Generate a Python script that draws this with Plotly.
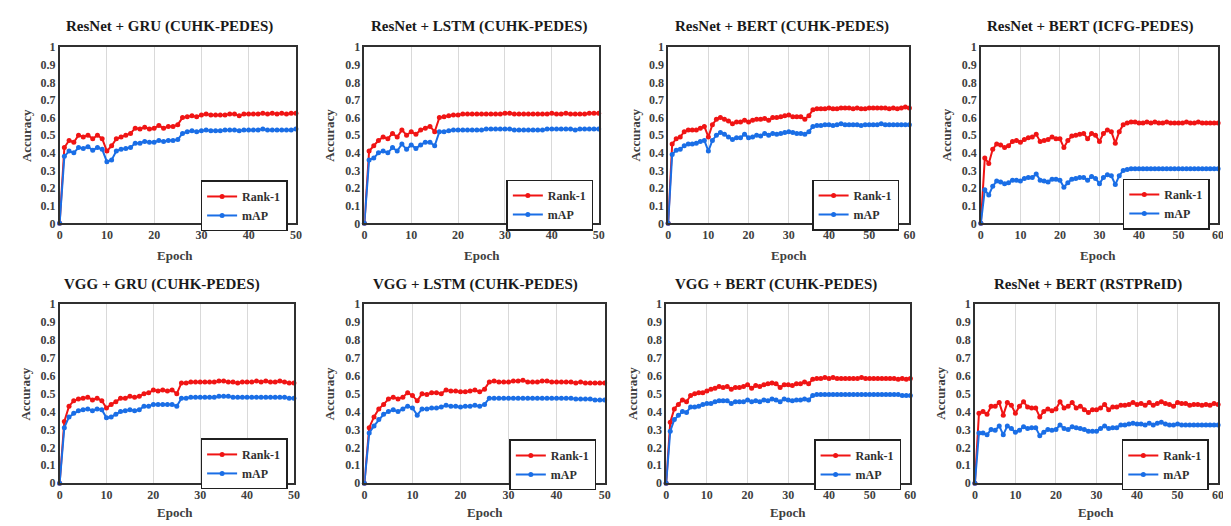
import plotly.graph_objects as go

W, H = 1231, 526
FONT = "Liberation Serif"
RED = "#f01414"
BLUE = "#1a6ee6"

epochs_50 = list(range(51))
epochs_60 = list(range(61))

titles = [
    "ResNet + GRU (CUHK-PEDES)", "ResNet + LSTM (CUHK-PEDES)",
    "ResNet + BERT (CUHK-PEDES)", "ResNet + BERT (ICFG-PEDES)",
    "VGG + GRU (CUHK-PEDES)", "VGG + LSTM (CUHK-PEDES)",
    "VGG + BERT (CUHK-PEDES)", "ResNet + BERT (RSTPReID)",
]
series_names = ["Rank-1", "mAP"]
y_tick_vals = [0, 0.1, 0.2, 0.3, 0.4, 0.5, 0.6, 0.7, 0.8, 0.9, 1]
y_tick_text = ["0", "0.1", "0.2", "0.3", "0.4", "0.5", "0.6", "0.7", "0.8", "0.9", "1"]

resnet_gru_rank1 = [0, .43, .47, .46, .50, .49, .50, .48, .50, .48,
                    .41, .44, .48, .49, .50, .51, .54, .535, .545, .535,
                    .54, .555, .54, .55, .55, .56, .60, .605, .61, .605,
                    .615, .62, .615, .615, .615, .615, .62, .62, .61, .62,
                    .62, .62, .62, .625, .62, .625, .62, .625, .62, .625, .625]
resnet_gru_map = [0, .38, .41, .40, .43, .425, .435, .415, .43, .42,
                  .35, .36, .41, .42, .425, .43, .455, .455, .465, .46,
                  .46, .47, .465, .47, .47, .475, .51, .52, .525, .52,
                  .525, .53, .525, .525, .525, .53, .53, .53, .525, .53,
                  .53, .53, .53, .535, .53, .53, .53, .53, .53, .53, .535]

resnet_lstm_rank1 = [0, .41, .44, .47, .49, .48, .51, .49, .53, .50,
                     .52, .505, .53, .54, .55, .52, .60, .605, .61, .615,
                     .615, .62, .62, .62, .62, .62, .62, .62, .62, .62,
                     .625, .625, .62, .62, .62, .62, .62, .62, .62, .62,
                     .625, .62, .62, .625, .62, .62, .62, .62, .625, .625, .625]
resnet_lstm_map = [0, .36, .37, .40, .41, .40, .43, .41, .45, .42,
                   .445, .425, .445, .46, .46, .44, .52, .52, .525, .53,
                   .53, .53, .53, .53, .53, .53, .535, .535, .535, .535,
                   .535, .535, .53, .53, .53, .53, .53, .53, .53, .535,
                   .535, .535, .535, .535, .535, .53, .535, .535, .535, .535, .535]

resnet_bert_cuhk_rank1 = [0, .45, .48, .49, .52, .53, .53, .53, .54, .55,
                          .49, .56, .59, .60, .59, .58, .565, .575, .575, .585,
                          .575, .585, .59, .59, .595, .585, .60, .60, .605, .61,
                          .615, .605, .605, .605, .59, .61, .645, .65, .65, .65,
                          .655, .65, .65, .655, .655, .655, .65, .655, .65, .65,
                          .655, .655, .655, .655, .655, .65, .655, .65, .655, .66, .655]
resnet_bert_cuhk_map = [0, .39, .415, .42, .44, .45, .45, .455, .465, .47,
                        .41, .47, .50, .515, .505, .49, .475, .485, .485, .505,
                        .485, .49, .50, .495, .51, .50, .51, .505, .51, .515,
                        .52, .515, .51, .51, .505, .52, .55, .555, .555, .56,
                        .56, .555, .56, .565, .56, .56, .56, .56, .555, .56,
                        .56, .56, .56, .565, .56, .56, .56, .56, .56, .56, .56]

resnet_bert_icfg_rank1 = [0, .37, .34, .42, .45, .445, .43, .44, .465, .47,
                          .46, .475, .485, .49, .505, .465, .47, .475, .49, .48,
                          .48, .43, .47, .495, .50, .505, .51, .48, .51, .50,
                          .465, .51, .53, .52, .455, .52, .56, .57, .575, .575,
                          .57, .57, .575, .57, .575, .57, .57, .575, .57, .57,
                          .57, .57, .575, .57, .57, .575, .57, .57, .57, .57, .57]
resnet_bert_icfg_map = [0, .19, .16, .21, .24, .235, .225, .23, .245, .245,
                        .24, .255, .26, .26, .28, .245, .24, .235, .25, .25,
                        .245, .205, .23, .25, .255, .26, .26, .245, .265, .255,
                        .225, .26, .275, .27, .22, .27, .30, .305, .31, .31,
                        .31, .31, .31, .31, .31, .31, .31, .31, .31, .31,
                        .31, .31, .31, .31, .31, .31, .31, .31, .31, .31, .31]

vgg_gru_rank1 = [0, .345, .43, .46, .47, .475, .48, .465, .475, .46,
                 .42, .44, .455, .475, .475, .485, .48, .485, .50, .505,
                 .52, .515, .52, .515, .52, .50, .56, .56, .565, .565,
                 .565, .565, .565, .565, .57, .57, .565, .565, .56, .565,
                 .565, .565, .57, .565, .57, .565, .565, .57, .565, .56, .56]
vgg_gru_map = [0, .31, .37, .39, .405, .41, .415, .405, .415, .41,
               .365, .37, .385, .40, .405, .41, .405, .41, .43, .43,
               .44, .44, .44, .44, .44, .43, .475, .475, .48, .48,
               .48, .48, .48, .48, .485, .485, .485, .48, .48, .48,
               .48, .48, .48, .48, .48, .48, .48, .48, .48, .475, .475]

vgg_lstm_rank1 = [0, .31, .37, .415, .44, .47, .48, .47, .48, .505,
                  .49, .46, .50, .495, .505, .505, .50, .52, .515, .515,
                  .51, .51, .515, .52, .51, .525, .565, .57, .565, .565,
                  .565, .57, .57, .575, .565, .565, .565, .57, .57, .565,
                  .565, .565, .565, .565, .56, .565, .56, .56, .56, .56, .56]
vgg_lstm_map = [0, .28, .32, .355, .385, .40, .41, .40, .415, .43,
                .42, .38, .415, .415, .42, .42, .425, .435, .43, .43,
                .425, .43, .43, .435, .43, .44, .475, .475, .475, .475,
                .475, .475, .475, .475, .475, .475, .475, .475, .475, .475,
                .475, .475, .475, .475, .47, .47, .47, .47, .465, .465, .465]

vgg_bert_rank1 = [0, .34, .415, .44, .465, .455, .49, .50, .505, .505,
                  .515, .525, .53, .54, .535, .54, .525, .535, .535, .54,
                  .55, .53, .545, .54, .55, .555, .56, .555, .535, .55,
                  .55, .545, .555, .555, .565, .555, .58, .585, .585, .59,
                  .585, .59, .585, .585, .585, .585, .585, .585, .59, .585,
                  .585, .585, .585, .585, .585, .585, .585, .58, .585, .58, .585]
vgg_bert_map = [0, .29, .355, .38, .40, .395, .425, .425, .43, .44,
                .445, .445, .455, .46, .46, .46, .445, .455, .455, .455,
                .465, .455, .46, .455, .465, .46, .47, .465, .455, .47,
                .465, .46, .465, .465, .47, .465, .49, .495, .495, .495,
                .495, .495, .495, .495, .495, .495, .495, .495, .495, .495,
                .495, .495, .495, .495, .495, .495, .495, .495, .49, .49, .49]

resnet_bert_rstp_rank1 = [0, .39, .40, .385, .43, .43, .45, .38, .45, .435,
                          .39, .43, .455, .425, .42, .42, .37, .40, .415, .405,
                          .415, .455, .42, .43, .45, .42, .43, .41, .395, .41,
                          .41, .42, .44, .41, .425, .425, .435, .435, .44, .45,
                          .44, .445, .435, .45, .435, .445, .455, .445, .44, .43,
                          .45, .445, .445, .435, .44, .44, .435, .44, .435, .445, .44]
resnet_bert_rstp_map = [0, .28, .28, .27, .30, .295, .32, .27, .32, .305,
                        .285, .295, .315, .305, .31, .31, .265, .285, .30, .295,
                        .30, .325, .305, .30, .315, .31, .305, .30, .29, .29,
                        .29, .305, .32, .305, .31, .31, .325, .325, .33, .335,
                        .33, .33, .325, .335, .325, .335, .34, .33, .325, .325,
                        .33, .325, .325, .325, .325, .325, .325, .325, .325, .325, .325]

panel_data = [
    (epochs_50, resnet_gru_rank1, resnet_gru_map),
    (epochs_50, resnet_lstm_rank1, resnet_lstm_map),
    (epochs_60, resnet_bert_cuhk_rank1, resnet_bert_cuhk_map),
    (epochs_60, resnet_bert_icfg_rank1, resnet_bert_icfg_map),
    (epochs_50, vgg_gru_rank1, vgg_gru_map),
    (epochs_50, vgg_lstm_rank1, vgg_lstm_map),
    (epochs_60, vgg_bert_rank1, vgg_bert_map),
    (epochs_60, resnet_bert_rstp_rank1, resnet_bert_rstp_map),
]

# layout in pixels: plot box (left, right, top, bottom)
boxes = [
    (49, 287, 33, 214), (356, 592, 33, 214), (662, 905, 33, 214), (977, 1216, 33, 214),
    (49, 285, 297, 481), (356, 598, 297, 481), (660, 906, 297, 481), (971, 1216, 297, 481),
]
title_x = [160, 471, 777, 1087, 152, 468, 771, 1085]
ylab_x = [15, 321, 629, 942, 15, 321, 626, 936]
xlab_x = [165, 474, 784, 1095, 165, 477, 783, 1093]
legend_pos = [(191, 170), (499, 169), (807, 169), (1120, 168),
              (191, 435), (502, 436), (809, 436), (1119, 436)]


def px(x):
    return x / W


def py(y):
    return 1 - y / H


fig = go.Figure()
annotations = []
for i, ((xs, r1, mp), (l, r, t, b)) in enumerate(zip(panel_data, boxes)):
    n = i + 1
    xa = "x" if n == 1 else f"x{n}"
    ya = "y" if n == 1 else f"y{n}"
    lg = "legend" if n == 1 else f"legend{n}"
    for name, ys, col in zip(series_names, [r1, mp], [RED, BLUE]):
        fig.add_trace(go.Scatter(
            x=xs, y=ys, name=name, mode="lines+markers",
            line=dict(color=col, width=2),
            marker=dict(color=col, size=5, symbol="circle"),
            xaxis=xa, yaxis=ya, legend=lg, cliponaxis=False,
        ))
    xmax = xs[-1]
    axis_common = dict(
        showline=True, mirror=True, linecolor="#303030", linewidth=1.5,
        ticks="", zeroline=False,
        tickfont=dict(family=FONT, size=12, color="#404040", weight="bold"),
    )
    fig.layout[f"xaxis{'' if n == 1 else n}"] = dict(
        domain=[px(l), px(r)], anchor=ya, range=[0, xmax],
        tickvals=list(range(0, xmax + 1, 10)), showgrid=True, gridcolor="#d9d9d9",
        gridwidth=1, **axis_common)
    fig.layout[f"yaxis{'' if n == 1 else n}"] = dict(
        domain=[py(b), py(t)], anchor=xa, range=[0, 1],
        tickvals=y_tick_vals, ticktext=y_tick_text, showgrid=False,
        **axis_common)
    lx, ly = legend_pos[i]
    fig.layout[lg] = dict(
        x=px(lx), y=py(ly), xanchor="left", yanchor="top",
        xref="paper", yref="paper",
        bgcolor="white", bordercolor="#202020", borderwidth=1.5,
        font=dict(family=FONT, size=12, color="#303030", weight="bold"),
        tracegroupgap=0, itemwidth=30,
    )
    title_y = 12 if i < 4 else 277
    annotations.append(dict(
        text=titles[i], x=px(title_x[i]), y=py(title_y), xref="paper", yref="paper",
        xanchor="center", yanchor="middle", showarrow=False,
        font=dict(family=FONT, size=15, color="#1a1a1a", weight="bold")))
    annotations.append(dict(
        text="Accuracy", x=px(ylab_x[i]), y=py((t + b) / 2), xref="paper", yref="paper",
        xanchor="center", yanchor="middle", showarrow=False, textangle=-90,
        font=dict(family=FONT, size=13, color="#404040", weight="bold")))
    xl_y = 247 if i < 4 else 511
    annotations.append(dict(
        text="Epoch", x=px(xlab_x[i]), y=py(xl_y), xref="paper", yref="paper",
        xanchor="center", yanchor="middle", showarrow=False,
        font=dict(family=FONT, size=13, color="#404040", weight="bold")))

fig.update_layout(
    width=W, height=H, margin=dict(l=0, r=0, t=0, b=0),
    paper_bgcolor="white", plot_bgcolor="white",
    annotations=annotations, showlegend=True,
    font=dict(family=FONT),
)
fig.write_html("out.html")
